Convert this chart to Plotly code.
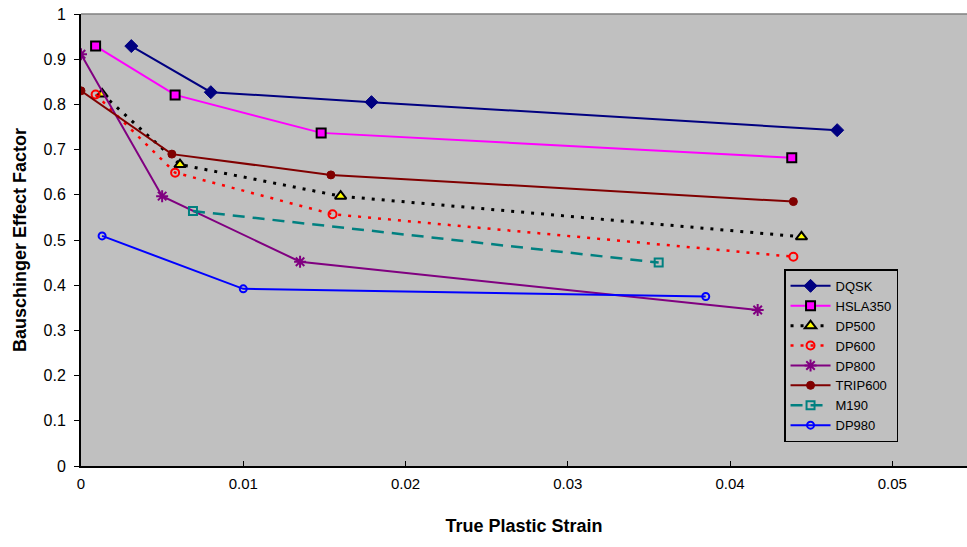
import plotly.graph_objects as go

# Data
dqsk_x = [0.0031, 0.0080, 0.0179, 0.0466]
dqsk_y = [0.929, 0.827, 0.805, 0.743]
hsla_x = [0.0009, 0.0058, 0.0148, 0.0438]
hsla_y = [0.929, 0.821, 0.737, 0.682]
dp500_x = [0.0013, 0.0061, 0.0160, 0.0444]
dp500_y = [0.823, 0.667, 0.597, 0.507]
dp600_x = [0.0009, 0.0058, 0.0155, 0.0439]
dp600_y = [0.822, 0.649, 0.557, 0.463]
dp800_x = [0.0000, 0.0050, 0.0135, 0.0417]
dp800_y = [0.911, 0.597, 0.452, 0.345]
trip_x = [0.0000, 0.0056, 0.0154, 0.0439]
trip_y = [0.830, 0.690, 0.644, 0.585]
m190_x = [0.0069, 0.0356]
m190_y = [0.564, 0.450]
dp980_x = [0.0013, 0.0100, 0.0385]
dp980_y = [0.509, 0.392, 0.375]

x_ticks = [0, 0.01, 0.02, 0.03, 0.04, 0.05]
x_tick_labels = ["0", "0.01", "0.02", "0.03", "0.04", "0.05"]
y_ticks = [0, 0.1, 0.2, 0.3, 0.4, 0.5, 0.6, 0.7, 0.8, 0.9, 1.0]
y_tick_labels = ["0", "0.1", "0.2", "0.3", "0.4", "0.5", "0.6", "0.7", "0.8", "0.9", "1"]

fig = go.Figure()

def add(name, xs, ys, color, dash, width, symbol, msize, mcolor, mline_color, mline_w):
    fig.add_trace(go.Scatter(
        x=xs, y=ys, name=name, mode="lines+markers",
        line=dict(color=color, dash=dash, width=width),
        marker=dict(symbol=symbol, size=msize, color=mcolor,
                    line=dict(color=mline_color, width=mline_w)),
    ))

add("DQSK", dqsk_x, dqsk_y, "#000080", "solid", 2, "diamond", 10, "#000080", "#000080", 1)
add("HSLA350", hsla_x, hsla_y, "#FF00FF", "solid", 2, "square", 9, "#FF00FF", "#000000", 2)
add("DP500", dp500_x, dp500_y, "#000000", "3px,7px", 3, "triangle-up", 10, "#FFFF00", "#000000", 2)
add("DP600", dp600_x, dp600_y, "#FF0000", "3px,7px", 2.5, "circle-open", 8, "#FF0000", "#FF0000", 2)
add("DP800", dp800_x, dp800_y, "#800080", "solid", 2, "asterisk-open", 10, "#800080", "#800080", 2)
add("TRIP600", trip_x, trip_y, "#800000", "solid", 2, "circle", 8, "#800000", "#800000", 1)
add("M190", m190_x, m190_y, "#008080", "12px,8px", 2.5, "square-open", 8, "#008080", "#008080", 2)
add("DP980", dp980_x, dp980_y, "#0000FF", "solid", 2, "circle-open", 7, "#0000FF", "#0000FF", 2)

fig.update_layout(
    width=967, height=547,
    margin=dict(l=81, r=0, t=14, b=81, autoexpand=False),
    paper_bgcolor="white",
    plot_bgcolor="#C0C0C0",
    font=dict(family="Liberation Sans, Arial, sans-serif", color="black"),
    showlegend=True,
    legend=dict(
        x=0.7935, y=0.435, xanchor="left", yanchor="top",
        bgcolor="#C0C0C0", bordercolor="black", borderwidth=1.5,
        font=dict(size=13), tracegroupgap=0, itemwidth=40,
    ),
    xaxis=dict(
        range=[0, 0.0546], tickvals=x_ticks, ticktext=x_tick_labels,
        showgrid=False, zeroline=False, showline=True, linecolor="black", linewidth=2,
        ticks="inside", ticklen=5, tickcolor="black", tickwidth=1,
        tickfont=dict(size=15), ticklabelstandoff=3, automargin=False,
        ticklabeloverflow="allow",
        title=dict(text="<b>True Plastic Strain</b>", font=dict(size=18), standoff=28),
    ),
    yaxis=dict(
        range=[0, 1], tickvals=y_ticks, ticktext=y_tick_labels,
        showgrid=False, zeroline=False, showline=True, linecolor="black", linewidth=2,
        ticks="outside", ticklen=5, tickcolor="black", tickwidth=1,
        tickfont=dict(size=16), ticklabelstandoff=5, automargin=False,
        ticklabeloverflow="allow",
        title=dict(text="<b>Bauschinger Effect Factor</b>", font=dict(size=18), standoff=12),
    ),
    shapes=[dict(type="line", xref="paper", yref="paper", x0=0, x1=1, y0=1, y1=1,
                 line=dict(color="#808080", width=1.5))],
)

fig.write_html(
    "out.html",
    config={"displayModeBar": False},
    post_script="document.body.style.margin='0px';document.body.style.overflow='hidden';",
)
